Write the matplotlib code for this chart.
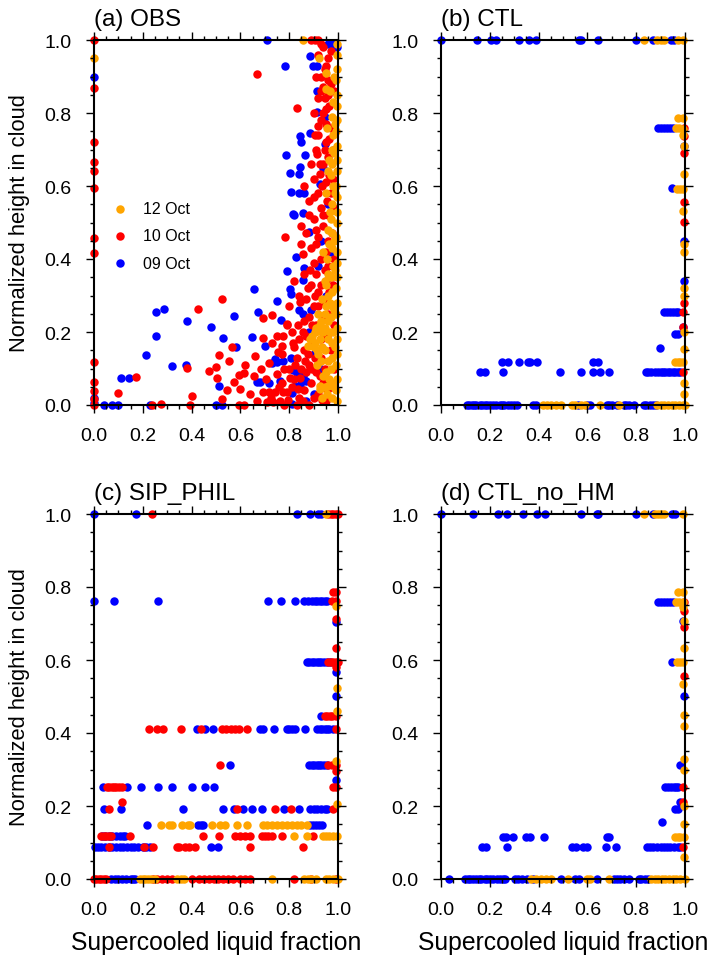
import matplotlib
matplotlib.use("Agg")
import matplotlib.pyplot as plt
from matplotlib.ticker import MultipleLocator

plt.rcParams['font.family'] = ['Liberation Sans', 'DejaVu Sans']

# ---------------- data (x = supercooled liquid fraction, y = normalized height) ----------------
# Panel (a) OBS
obs_09 = [(0, 0.898), (0, 0.02), (0, 0.005), (0.041, 0), (0.075, 0), (0.097, 0), (0.23, 0), (0.499, 0),
          (0.526, 0), (0.81, 0.003), (0.111, 0.075), (0.145, 0.075), (0.215, 0.137), (0.255, 0.189),
          (0.255, 0.254), (0.286, 0.264), (0.32, 0.106), (0.377, 0.11), (0.381, 0.229), (0.478, 0.213),
          (0.512, 0.051), (0.53, 0.183), (0.583, 0.158), (0.574, 0.243), (0.656, 0.317), (0.671, 0.256),
          (0.648, 0.186), (0.701, 0.163), (0.749, 0.286), (0.765, 0.234), (0.79, 0.368), (0.802, 0.318),
          (0.806, 0.304), (0.818, 0.521), (0.858, 0.526), (0.828, 0.405), (0.88, 0.473), (0.861, 0.375),
          (0.858, 0.343), (0.839, 0.261), (0.855, 0.248), (0.891, 0.259), (0.731, 0.114), (0.743, 0.126),
          (0.749, 0.119), (0.773, 0.121), (0.762, 0.065), (0.667, 0.064), (0.68, 0.063), (0.716, 0.061),
          (0.81, 0.032), (0.806, 0.128), (0.817, 0.097), (0.831, 0.088), (0.858, 0.08), (0.869, 0.066),
          (0.824, 0.051), (0.844, 0.056), (0.708, 1.0), (0.885, 0.957), (0.783, 0.928), (0.898, 0.928),
          (0.913, 0.928), (0.913, 0.859), (0.913, 0.802), (0.885, 0.744), (0.844, 0.736), (0.847, 0.72),
          (0.786, 0.686), (0.866, 0.686), (0.844, 0.653), (0.839, 0.634), (0.803, 0.635), (0.807, 0.584),
          (0.839, 0.58), (0.861, 0.58), (0.817, 0.522), (0.947, 0.715), (0.926, 0.605), (0.947, 0.79),
          (0.98, 0.99), (0.995, 0.98), (0.96, 0.99), (0.93, 0.45), (0.92, 0.38), (0.95, 0.3), (0.9, 0.14),
          (0.93, 0.1), (0.88, 0.2), (0.96, 0.55), (0.94, 0.65), (0.97, 0.42), (0.9, 0.03), (0.87, 0.01),
          (0.95, 0.07)]
obs_10 = [(0, 1.0), (0, 0.868), (0, 0.721), (0, 0.667), (0, 0.642), (0, 0.594), (0, 0.457), (0, 0.416),
          (0, 0.119), (0, 0.064), (0, 0.039), (0, 0.016), (0, 0.0), (0.236, 0.0), (0.275, 0.003),
          (0.393, 0.0), (0.596, 0.0), (0.615, 0.0), (0.526, 0.016), (0.1, 0.032), (0.171, 0.078),
          (0.38, 0.101), (0.402, 0.025), (0.428, 0.263), (0.526, 0.29), (0.473, 0.094), (0.499, 0.105),
          (0.503, 0.073), (0.514, 0.137), (0.564, 0.158), (0.572, 0.063), (0.596, 0.082), (0.613, 0.088),
          (0.6, 0.044), (0.658, 0.135), (0.691, 0.239), (0.731, 0.247), (0.694, 0.183), (0.731, 0.17),
          (0.769, 0.163), (0.79, 0.222), (0.718, 0.115), (0.792, 0.219), (0.691, 0.036), (0.717, 0.035),
          (0.742, 0.036), (0.776, 0.036), (0.79, 0.035), (0.67, 0.012), (0.71, 0.009), (0.735, 0.008),
          (0.762, 0.012), (0.784, 0.459), (0.847, 0.49), (0.847, 0.441), (0.885, 0.371), (0.855, 0.415),
          (0.844, 0.281), (0.667, 0.907), (0.83, 0.815), (0.89, 1.0), (0.905, 1.0), (0.918, 1.0),
          (0.926, 0.632), (0.913, 0.688), (0.919, 0.765),
          (0.80, 0.27), (0.81, 0.2), (0.82, 0.16), (0.83, 0.13), (0.8, 0.1), (0.82, 0.07), (0.84, 0.02),
          (0.86, 0.04), (0.85, 0.1), (0.86, 0.15), (0.87, 0.19), (0.88, 0.24), (0.87, 0.29), (0.89, 0.33),
          (0.88, 0.11), (0.89, 0.06), (0.9, 0.02), (0.91, 0.09), (0.9, 0.17), (0.91, 0.22), (0.92, 0.27),
          (0.92, 0.31), (0.93, 0.18), (0.93, 0.13), (0.94, 0.06), (0.92, 0.03), (0.95, 0.01), (0.94, 0.24),
          (0.95, 0.34), (0.88, 0.0), (0.83, 0.0), (0.78, 0.0), (0.76, 0.05), (0.78, 0.1), (0.77, 0.14),
          (0.75, 0.19), (0.81, 0.05), (0.84, 0.18), (0.86, 0.23), (0.9, 0.27), (0.84, 0.3), (0.82, 0.34),
          (0.86, 0.36), (0.9, 0.39), (0.91, 0.36), (0.93, 0.4), (0.89, 0.43), (0.92, 0.46), (0.94, 0.49),
          (0.9, 0.51), (0.93, 0.54), (0.88, 0.56), (0.92, 0.58), (0.95, 0.61), (0.9, 0.62), (0.94, 0.66),
          (0.91, 0.7), (0.95, 0.72), (0.92, 0.74), (0.89, 0.66), (0.96, 0.45), (0.96, 0.38), (0.87, 0.47),
          (0.86, 0.6), (0.96, 0.52), (0.97, 0.58), (0.88, 0.52), (0.91, 0.44), (0.93, 0.78), (0.95, 0.81),
          (0.92, 0.84), (0.94, 0.87), (0.93, 0.9), (0.95, 0.93), (0.92, 0.96), (0.94, 0.98), (0.96, 0.85),
          (0.97, 0.76), (0.96, 0.68), (0.9, 0.8), (0.96, 0.95), (0.97, 0.88), (0.98, 0.7), (0.98, 0.62),
          (0.96, 0.25), (0.97, 0.15), (0.98, 0.33), (0.97, 0.05),
          (0.935, 0.015), (0.955, 0.04), (0.945, 0.1), (0.925, 0.08), (0.895, 0.1), (0.905, 0.13),
          (0.935, 0.21), (0.955, 0.19), (0.945, 0.28), (0.965, 0.31), (0.93, 0.33), (0.945, 0.37),
          (0.97, 0.35), (0.95, 0.42), (0.975, 0.47), (0.94, 0.52), (0.955, 0.56), (0.935, 0.6),
          (0.965, 0.63), (0.945, 0.7), (0.965, 0.73), (0.95, 0.77), (0.94, 0.8), (0.965, 0.82),
          (0.945, 0.84), (0.96, 0.89), (0.945, 0.92), (0.97, 0.97), (0.93, 0.99), (0.985, 0.86),
          (0.985, 0.54), (0.985, 0.4), (0.985, 0.22), (0.985, 0.1), (0.87, 0.09), (0.875, 0.14),
          (0.895, 0.22), (0.905, 0.3), (0.875, 0.32), (0.91, 0.48), (0.9, 0.57), (0.925, 0.66),
          (0.905, 0.74), (0.93, 0.86), (0.91, 0.9),
          (0.705, 0.07), (0.725, 0.02), (0.75, 0.085), (0.77, 0.06), (0.795, 0.015), (0.805, 0.075),
          (0.825, 0.11), (0.835, 0.045), (0.855, 0.01), (0.865, 0.12), (0.845, 0.075), (0.815, 0.17),
          (0.835, 0.22), (0.855, 0.2), (0.775, 0.19), (0.755, 0.145), (0.64, 0.03), (0.655, 0.08),
          (0.685, 0.1), (0.62, 0.11), (0.545, 0.04), (0.555, 0.12)]
obs_12 = [(0, 0.95), (0.858, 1.0), (0.923, 0.952), (0.95, 0.909), (0.95, 0.866), (0.878, 0.163),
          (0.919, 0.204), (0.926, 0.053), (0.959, 0.053), (0.926, 0.044),
          (0.995, 0.01), (0.993, 0.04), (0.997, 0.07), (0.992, 0.11), (0.996, 0.14), (0.994, 0.18),
          (0.997, 0.21), (0.993, 0.25), (0.996, 0.28), (0.992, 0.32), (0.997, 0.35), (0.994, 0.39),
          (0.996, 0.42), (0.993, 0.46), (0.997, 0.5), (0.994, 0.53), (0.996, 0.57), (0.992, 0.6),
          (0.997, 0.64), (0.994, 0.67), (0.996, 0.71), (0.993, 0.75), (0.997, 0.78), (0.994, 0.82),
          (0.996, 0.85), (0.993, 0.89), (0.997, 0.92), (0.994, 0.96), (0.996, 0.99),
          (0.975, 0.02), (0.978, 0.06), (0.972, 0.1), (0.976, 0.13), (0.974, 0.17), (0.979, 0.2),
          (0.973, 0.24), (0.977, 0.27), (0.975, 0.31), (0.971, 0.35), (0.978, 0.38), (0.974, 0.43),
          (0.977, 0.47), (0.972, 0.51), (0.976, 0.55), (0.978, 0.6), (0.973, 0.63), (0.977, 0.66),
          (0.975, 0.7), (0.979, 0.74), (0.974, 0.79), (0.978, 0.83),
          (0.955, 0.03), (0.95, 0.09), (0.958, 0.12), (0.945, 0.15), (0.957, 0.18), (0.948, 0.21),
          (0.96, 0.23), (0.952, 0.27), (0.958, 0.3), (0.95, 0.33), (0.96, 0.36), (0.955, 0.4),
          (0.958, 0.48), (0.952, 0.58), (0.958, 0.64), (0.956, 0.76),
          (0.935, 0.02), (0.94, 0.08), (0.93, 0.12), (0.935, 0.16), (0.925, 0.18), (0.94, 0.2),
          (0.93, 0.23), (0.915, 0.15), (0.905, 0.17), (0.895, 0.19), (0.91, 0.21), (0.92, 0.25),
          (0.935, 0.29), (0.94, 0.42), (0.915, 0.11),
          (0.985, 0.05), (0.987, 0.16), (0.984, 0.26), (0.986, 0.37), (0.985, 0.45), (0.987, 0.58),
          (0.984, 0.69), (0.986, 0.77), (0.985, 0.9), (0.965, 0.07), (0.967, 0.2), (0.966, 0.28),
          (0.964, 0.44), (0.968, 0.53), (0.963, 0.67), (0.966, 0.86), (0.945, 0.25), (0.948, 0.05),
          (0.92, 0.14), (0.9, 0.16), (0.885, 0.18), (0.905, 0.2), (0.925, 0.22), (0.945, 0.34)]

# Panel (b) CTL
ctl_09 = ([(x, 1.0) for x in [0, 0.149, 0.205, 0.225, 0.32, 0.362, 0.39, 0.567, 0.574, 0.642, 0.799, 0.867, 0.941, 0.955]]
          + [(x, 0.76) for x in [0.888, 0.9, 0.912, 0.925, 0.94, 0.952]]
          + [(0.945, 0.595), (0.997, 0.71), (0.997, 0.45), (0.997, 0.34), (0.99, 0.213), (0.959, 0.195),
             (0.973, 0.195), (0.898, 0.155)]
          + [(x, 0.254) for x in [0.914, 0.925, 0.937, 0.95, 0.962, 0.973]]
          + [(x, 0.117) for x in [0.249, 0.276, 0.321, 0.358, 0.365, 0.392, 0.624, 0.645]]
          + [(x, 0.0895) for x in [0.16, 0.18, 0.255, 0.488, 0.574, 0.622, 0.652, 0.687, 0.84, 0.85, 0.86,
                                   0.875, 0.89, 0.9, 0.91, 0.92, 0.93, 0.94, 0.95, 0.96, 0.97, 0.98]]
          + [(x, 0.0) for x in [0.105, 0.115, 0.125, 0.135, 0.145, 0.16, 0.17, 0.18, 0.19, 0.2, 0.215,
                                0.225, 0.24, 0.25, 0.26, 0.275, 0.285, 0.3, 0.31, 0.375, 0.39, 0.56, 0.6,
                                0.61, 0.68, 0.69, 0.7, 0.72, 0.75, 0.76, 0.77, 0.79, 0.83, 0.84, 0.855,
                                0.87, 0.88]])
ctl_10 = [(0.997, 0.76), (0.997, 0.736), (0.997, 0.557), (0.997, 0.502), (0.993, 0.254), (0.993, 0.213),
          (0.993, 0.0895), (0.997, 0.69), (0.997, 0.28)]
ctl_12 = ([(x, 1.0) for x in [0.832, 0.887, 0.9, 0.915, 0.973, 0.993]]
          + [(0.97, 0.785), (0.99, 0.785), (0.963, 0.76), (0.975, 0.76), (0.99, 0.755), (0.99, 0.74),
             (0.995, 0.71), (0.995, 0.633), (0.966, 0.592), (0.978, 0.592), (0.99, 0.592), (0.99, 0.532),
             (0.995, 0.44), (0.995, 0.42), (0.995, 0.32), (0.995, 0.3), (0.995, 0.2), (0.995, 0.153),
             (0.959, 0.117), (0.97, 0.117), (0.98, 0.117), (0.99, 0.117), (0.995, 0.06), (0.995, 0.03)]
          + [(x, 0.0) for x in [0.42, 0.435, 0.45, 0.47, 0.49, 0.535, 0.55, 0.575, 0.59, 0.65, 0.73, 0.885,
                                0.9, 0.915, 0.93, 0.945, 0.96, 0.975, 0.99, 1.0]])

# Panel (c) SIP_PHIL
sip_09 = ([(x, 1.0) for x in [0, 0.172, 0.83, 0.885, 0.92, 0.93]]
          + [(x, 0.761) for x in [0, 0.083, 0.264, 0.715, 0.765, 0.824, 0.861, 0.879, 0.893, 0.905, 0.915,
                                  0.925, 0.935, 0.945, 0.954]]
          + [(0.99, 0.703), (0.99, 0.566), (0.99, 0.502), (0.929, 0.447), (0.557, 0.312), (0.99, 0.271)]
          + [(x, 0.595) for x in [0.872, 0.882, 0.892, 0.902, 0.912, 0.922, 0.932, 0.942, 0.955, 0.967]]
          + [(x, 0.411) for x in [0.421, 0.455, 0.489, 0.68, 0.691, 0.739, 0.792, 0.8, 0.81, 0.824, 0.865,
                                  0.915, 0.925, 0.935, 0.945, 0.955, 0.965, 0.981]]
          + [(x, 0.312) for x in [0.882, 0.892, 0.902, 0.912, 0.922, 0.932, 0.943, 0.954]]
          + [(x, 0.253) for x in [0.038, 0.137, 0.193, 0.264, 0.32, 0.4, 0.455, 0.493]]
          + [(x, 0.192) for x in [0.042, 0.111, 0.366, 0.527, 0.575, 0.612, 0.646, 0.687, 0.779, 0.842,
                                  0.885, 0.9, 0.915, 0.93, 0.945, 0.954]]
          + [(x, 0.148) for x in [0.216, 0.428, 0.437, 0.445, 0.885, 0.897, 0.91, 0.922, 0.933]]
          + [(x, 0.117) for x in [0.031, 0.045, 0.06, 0.075, 0.09, 0.105, 0.118, 0.127]]
          + [(x, 0.089) for x in [0.004, 0.015, 0.03, 0.045, 0.06, 0.075, 0.09, 0.105, 0.12, 0.135, 0.15,
                                  0.165, 0.18, 0.2, 0.215, 0.23, 0.48, 0.507]]
          + [(x, 0.0) for x in [0.07, 0.085, 0.1, 0.115, 0.13, 0.15, 0.16, 0.17]])
sip_10 = ([(x, 1.0) for x in [0.236, 0.96, 0.97, 0.98, 0.99, 1.0]]
          + [(0.98, 0.785), (0.99, 0.785), (0.975, 0.761), (0.993, 0.761), (0.99, 0.712), (0.99, 0.633),
             (0.99, 0.58), (0.516, 0.312), (0.96, 0.312), (0.975, 0.312), (0.99, 0.312), (0.993, 0.297),
             (0.98, 0.253), (0.99, 0.253), (0.116, 0.212)]
          + [(x, 0.595) for x in [0.96, 0.97, 0.98, 0.99, 1.0]]
          + [(x, 0.447) for x in [0.946, 0.956, 0.966, 0.976, 0.99]]
          + [(x, 0.411) for x in [0.227, 0.257, 0.281, 0.357, 0.437, 0.523, 0.54, 0.56, 0.578, 0.596, 0.626,
                                  0.99]]
          + [(x, 0.253) for x in [0.052, 0.062, 0.072, 0.082, 0.092, 0.103, 0.113]]
          + [(x, 0.192) for x in [0.061, 0.585, 0.742, 0.807, 0.98]]
          + [(x, 0.117) for x in [0.03, 0.04, 0.05, 0.06, 0.07, 0.148, 0.445, 0.514, 0.578, 0.6, 0.62,
                                  0.639, 0.687, 0.7, 0.715, 0.728, 0.769, 0.899]]
          + [(x, 0.089) for x in [0.06, 0.206, 0.243, 0.339, 0.35, 0.373, 0.391, 0.414, 0.639, 0.858]]
          + [(x, 0.0) for x in [0.0, 0.01, 0.02, 0.03, 0.04, 0.05, 0.24, 0.26, 0.28, 0.3, 0.32, 0.4, 0.43,
                                0.45, 0.47, 0.49, 0.51, 0.53, 0.55, 0.57, 0.6, 0.62, 0.64, 0.82, 0.89, 0.99]])
sip_12 = ([(0.95, 1.0), (0.99, 0.747), (0.995, 0.523), (0.995, 0.46), (0.99, 0.324), (0.995, 0.205)]
          + [(x, 0.148) for x in [0.273, 0.309, 0.318, 0.359, 0.387, 0.393, 0.482, 0.516, 0.537, 0.585,
                                  0.626, 0.694, 0.71, 0.73, 0.75, 0.77, 0.79, 0.81, 0.83, 0.85, 0.872]]
          + [(x, 0.117) for x in [0.821, 0.872, 0.937, 0.95, 0.965, 0.98, 0.995]]
          + [(x, 0.0) for x in [0.19, 0.2, 0.21, 0.22, 0.235, 0.25, 0.34, 0.355, 0.37, 0.73, 0.86, 0.875,
                                0.89, 0.91, 0.95, 0.965, 0.98, 1.0]])

# Panel (d) CTL_no_HM
nohm_09 = ([(x, 1.0) for x in [0, 0.13, 0.232, 0.272, 0.336, 0.395, 0.426, 0.574, 0.638, 0.645, 0.799, 0.87,
                               0.945, 0.96]]
           + [(x, 0.76) for x in [0.888, 0.9, 0.912, 0.925, 0.94, 0.952]]
           + [(0.99, 0.708), (0.945, 0.595), (0.995, 0.502), (0.98, 0.312), (0.98, 0.21), (0.959, 0.192),
              (0.973, 0.192), (0.904, 0.155)]
           + [(x, 0.253) for x in [0.918, 0.93, 0.942, 0.955, 0.965, 0.973]]
           + [(x, 0.116) for x in [0.255, 0.266, 0.296, 0.348, 0.365, 0.422, 0.679, 0.69]]
           + [(x, 0.089) for x in [0.167, 0.184, 0.269, 0.536, 0.553, 0.583, 0.597, 0.676, 0.716, 0.845,
                                   0.855, 0.87, 0.885, 0.9, 0.912, 0.925, 0.94, 0.955, 0.97, 0.98]]
           + [(x, 0.0) for x in [0.034, 0.1, 0.11, 0.12, 0.13, 0.145, 0.155, 0.165, 0.18, 0.19, 0.2, 0.215,
                                 0.23, 0.24, 0.255, 0.264, 0.304, 0.315, 0.33, 0.352, 0.375, 0.49, 0.55,
                                 0.565, 0.64, 0.71, 0.72, 0.735, 0.75, 0.77, 0.81, 0.82, 0.835, 0.85]])
nohm_10 = [(0.997, 0.76), (0.997, 0.735), (0.997, 0.557), (0.993, 0.253), (0.993, 0.21), (0.993, 0.089),
           (0.997, 0.69)]
nohm_12 = ([(x, 1.0) for x in [0.832, 0.875, 0.89, 0.9, 0.915, 0.99]]
           + [(0.97, 0.785), (0.99, 0.785), (0.963, 0.76), (0.975, 0.76), (0.99, 0.76), (0.99, 0.745),
              (0.995, 0.708), (0.995, 0.632), (0.966, 0.595), (0.978, 0.595), (0.99, 0.595), (0.99, 0.534),
              (0.995, 0.45), (0.995, 0.42), (0.995, 0.33), (0.995, 0.3), (0.995, 0.2), (0.995, 0.15),
              (0.959, 0.116), (0.97, 0.116), (0.98, 0.116), (0.995, 0.116), (0.995, 0.06)]
           + [(x, 0.0) for x in [0.37, 0.39, 0.41, 0.43, 0.45, 0.52, 0.6, 0.61, 0.69, 0.86, 0.875, 0.89,
                                 0.905, 0.92, 0.935, 0.95, 0.965, 0.98, 1.0]])

panel_titles = ["(a) OBS", "(b) CTL", "(c) SIP_PHIL", "(d) CTL_no_HM"]
panel_data = [(obs_09, obs_10, obs_12), (ctl_09, ctl_10, ctl_12),
              (sip_09, sip_10, sip_12), (nohm_09, nohm_10, nohm_12)]
legend_labels = ["12 Oct", "10 Oct", "09 Oct"]
colors = {"09": "#0000FF", "10": "#FF0000", "12": "#FFA500"}
ticks = [0.0, 0.2, 0.4, 0.6, 0.8, 1.0]
xlabel = "Supercooled liquid fraction"
ylabel = "Normalized height in cloud"

# ---------------- figure ----------------
W, H = 712, 962
fig = plt.figure(figsize=(W / 100, H / 100), dpi=100)

def rect(l, r, t, b):
    return [l / W, 1 - b / H, (r - l) / W, (b - t) / H]

rects = [rect(94, 338, 41, 406), rect(441, 685, 41, 406),
         rect(94, 338, 515, 880), rect(441, 685, 515, 880)]

ms = 37
for i, (r, title, (d09, d10, d12)) in enumerate(zip(rects, panel_titles, panel_data)):
    ax = fig.add_axes(r)
    for d, c in ((d09, colors["09"]), (d10, colors["10"]), (d12, colors["12"])):
        xs = [p[0] for p in d]
        ys = [p[1] for p in d]
        ax.scatter(xs, ys, s=ms, c=c, linewidths=0, clip_on=False, zorder=1)
    ax.set_xlim(0, 1)
    ax.set_ylim(0, 1)
    ax.set_xticks(ticks)
    ax.set_yticks(ticks)
    ax.set_xticklabels([f"{t:.1f}" for t in ticks])
    ax.set_yticklabels([f"{t:.1f}" for t in ticks])
    ax.xaxis.set_minor_locator(MultipleLocator(0.05))
    ax.yaxis.set_minor_locator(MultipleLocator(0.05))
    ax.tick_params(which='both', direction='out', top=True, right=True, width=1.0, color='black')
    ax.tick_params(which='major', length=5.5, labelsize=14, pad=10.5)
    ax.tick_params(which='minor', length=3)
    for sp in ax.spines.values():
        sp.set_linewidth(1.5)
        sp.set_zorder(3)
    ax.text(0.0, 1 + 15 / 365, title, transform=ax.transAxes, ha='left', va='baseline', fontsize=17.5)
    if i == 0:
        ys_leg = [0.537, 0.464, 0.389]
        for lab, yl, c in zip(legend_labels, ys_leg, [colors["12"], colors["10"], colors["09"]]):
            ax.scatter([0.1066], [yl], s=ms, c=c, linewidths=0, transform=ax.transAxes)
            ax.text(0.2008, yl, lab, transform=ax.transAxes, ha='left', va='center', fontsize=11.5)

# axis titles
fig.text(20 / W, 1 - 223.5 / H, ylabel, rotation=90, ha='center', va='center', fontsize=15.8)
fig.text(20 / W, 1 - 697.5 / H, ylabel, rotation=90, ha='center', va='center', fontsize=15.8)
fig.text(216 / W, 1 - 943 / H, xlabel, ha='center', va='center', fontsize=17.8)
fig.text(563 / W, 1 - 943 / H, xlabel, ha='center', va='center', fontsize=17.8)

fig.savefig("out.png", dpi=100)
